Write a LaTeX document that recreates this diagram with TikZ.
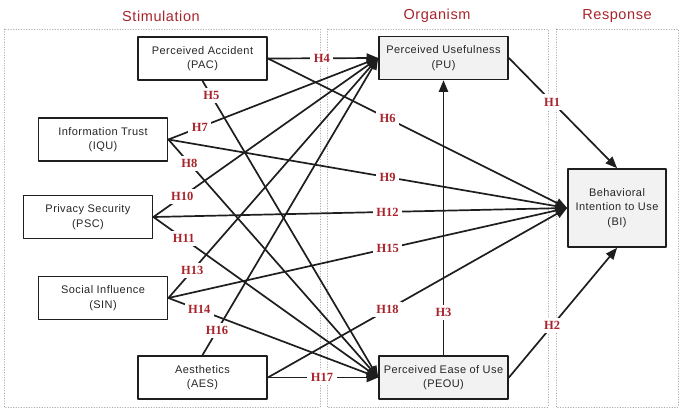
\documentclass[tikz,border=0pt]{standalone}
\usepackage{fontspec}
\setmainfont{Liberation Sans}[LetterSpace=4]
\newfontfamily\hypfont{Liberation Serif}
\usepackage{tikz}
\usetikzlibrary{arrows}
\definecolor{hypred}{RGB}{168,36,44}
\definecolor{boxgray}{RGB}{242,242,242}
\definecolor{linegray}{RGB}{30,30,30}
\begin{document}
\begin{tikzpicture}[line cap=round,line join=round,>=triangle 45,x=1pt,y=-1pt,
  box/.style={draw=linegray,line width=1.8pt,fill=white,minimum width=129pt,minimum height=43pt,
    align=center,inner sep=0pt,font=\fontsize{11}{14.5}\selectfont,text=black!85},
  grybox/.style={box,fill=boxgray},
  panel/.style={draw=black!35,dotted,line width=0.6pt},
  title/.style={text=hypred,font=\fontsize{14.5}{16}\selectfont},
  link/.style={->,draw=linegray,line width=1.7pt},
  hyp/.style={fill=white,inner sep=3.5pt,text=hypred,font=\hypfont\bfseries\fontsize{12.5}{13}\selectfont}]
\useasboundingbox (0,0) rectangle (685,410);
% panels
\draw [panel] (4,29) rectangle (320,407);
\draw [panel] (327,29) rectangle (548,407);
\draw [panel] (556,29) rectangle (678,407);
\node [title] (tstim) at (161,16) {Stimulation};
\node [title] (torg) at (437,16) {Organism};
\node [title] (tresp) at (617,16) {Response};
% constructs
\node [box] (PAC) at (202.5,58.5) {Perceived Accident\\(PAC)};
\node [box] (IQU) at (103,139.5) {Information Trust\\(IQU)};
\node [box] (PSC) at (88,217) {Privacy Security\\(PSC)};
\node [box] (SIN) at (103,298) {Social Influence\\(SIN)};
\node [box] (AES) at (202.5,377.5) {Aesthetics\\(AES)};
\node [grybox] (PU) at (443.5,58) {Perceived Usefulness\\(PU)};
\node [grybox] (PEOU) at (443.5,377.5) {Perceived Ease of Use\\(PEOU)};
\node [grybox,minimum width=98pt,minimum height=78pt] (BI) at (617,208) {Behavioral\\Intention to Use\\(BI)};
% paths
\draw [link] (PU.east) -- node[hyp,pos=0.4] {H1} (BI.north);
\draw [link] (PEOU.east) -- node[hyp,pos=0.4] {H2} (BI.south);
\draw [link] (PEOU.north) -- node[hyp,pos=0.155] {H3} (PU.south);
\draw [link] (PAC.east) -- node[hyp,pos=0.49] {H4} (PU.west);
\draw [link] (PAC.south) -- node[hyp,pos=0.05] {H5} (PEOU.west);
\draw [link] (PAC.east) -- node[hyp,pos=0.4] {H6} (BI.west);
\draw [link] (IQU.east) -- node[hyp,pos=0.15] {H7} (PU.west);
\draw [link] (IQU.east) -- node[hyp,pos=0.1] {H8} (PEOU.west);
\draw [link] (IQU.east) -- node[hyp,pos=0.55] {H9} (BI.west);
\draw [link] (PSC.east) -- node[hyp,pos=0.128] {H10} (PU.west);
\draw [link] (PSC.east) -- node[hyp,pos=0.135] {H11} (PEOU.west);
\draw [link] (PSC.east) -- node[hyp,pos=0.566] {H12} (BI.west);
\draw [link] (SIN.east) -- node[hyp,pos=0.114] {H13} (PU.west);
\draw [link] (SIN.east) -- node[hyp,pos=0.147] {H14} (PEOU.west);
\draw [link] (SIN.east) -- node[hyp,pos=0.55] {H15} (BI.west);
\draw [link] (AES.north) -- node[hyp,pos=0.082] {H16} (PU.west);
\draw [link] (AES.east) -- node[hyp,pos=0.49] {H17} (PEOU.west);
\draw [link] (AES.east) -- node[hyp,pos=0.4] {H18} (BI.west);
\end{tikzpicture}
\end{document}
